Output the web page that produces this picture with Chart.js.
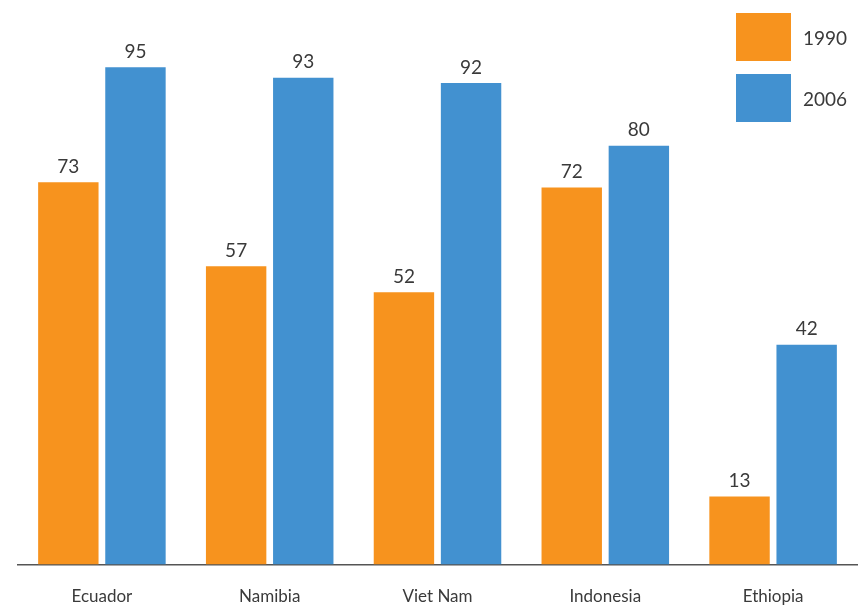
<!DOCTYPE html>
<html>
<head>
<meta charset="utf-8">
<script src="https://cdn.jsdelivr.net/npm/chart.js@4"></script>
<style>
  html, body { margin: 0; padding: 0; background: #fff; }
  #wrap { width: 861px; height: 608px; }
</style>
</head>
<body>
<div id="wrap"><canvas id="myChart"></canvas></div>
<script>
const countries = ['Ecuador', 'Namibia', 'Viet Nam', 'Indonesia', 'Ethiopia'];
const years = ['1990', '2006'];
const values1990 = [73, 57, 52, 72, 13];
const values2006 = [95, 93, 92, 80, 42];

const orange = '#F7931E';
const blue = '#4291D0';
const textColor = '#3a3a3a';
const fontFamily = 'Lato, "Open Sans", sans-serif';

// numbers above the bars
const valueLabels = {
    id: 'valueLabels',
    afterDatasetsDraw(chart) {
        const ctx = chart.ctx;
        ctx.save();
        ctx.font = '19px ' + fontFamily;
        ctx.fillStyle = textColor;
        ctx.textAlign = 'center';
        ctx.textBaseline = 'bottom';
        chart.data.datasets.forEach((ds, i) => {
            chart.getDatasetMeta(i).data.forEach((bar, j) => {
                ctx.fillText(ds.data[j], bar.x, bar.y - 6);
            });
        });
        ctx.restore();
    }
};

// legend drawn in the top right corner, stacked
const boxLegend = {
    id: 'boxLegend',
    afterDraw(chart) {
        const ctx = chart.ctx;
        ctx.save();
        ctx.font = '19px ' + fontFamily;
        ctx.textBaseline = 'middle';
        ctx.textAlign = 'left';
        chart.data.datasets.forEach((ds, i) => {
            const y = 13 + i * 61;
            ctx.fillStyle = ds.backgroundColor;
            ctx.fillRect(736, y, 55, 48);
            ctx.fillStyle = textColor;
            ctx.fillText(ds.label, 803, y + 26);
        });
        ctx.restore();
    }
};

new Chart(document.getElementById('myChart'), {
    type: 'bar',
    data: {
        labels: countries,
        datasets: [
            { label: years[0], data: values1990, backgroundColor: orange },
            { label: years[1], data: values2006, backgroundColor: blue }
        ]
    },
    options: {
        responsive: true,
        maintainAspectRatio: false,
        animation: false,
        categoryPercentage: 0.8,
        barPercentage: 0.9,
        layout: { padding: { left: 18, right: 4, top: 41, bottom: -21 } },
        plugins: {
            legend: { display: false },
            tooltip: { enabled: false }
        },
        scales: {
            x: {
                grid: { display: false, drawTicks: false },
                border: { display: true, color: '#555', width: 1.5 },
                ticks: {
                    color: textColor,
                    padding: 22,
                    font: { size: 17, family: fontFamily }
                }
            },
            y: {
                display: false,
                min: 0,
                max: 100
            }
        }
    },
    plugins: [valueLabels, boxLegend]
});
</script>
</body>
</html>
